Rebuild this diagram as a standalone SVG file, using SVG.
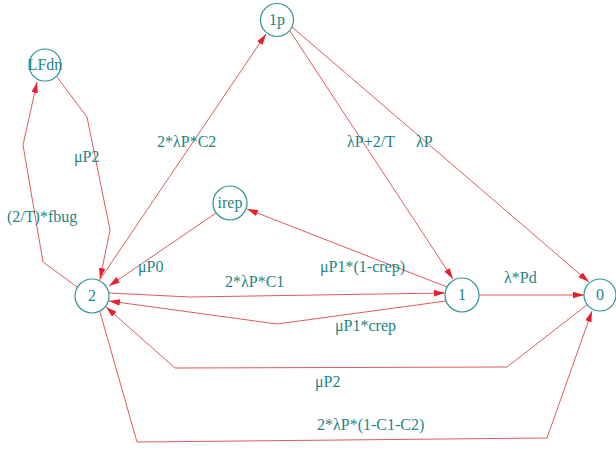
<svg xmlns="http://www.w3.org/2000/svg" width="616" height="450" viewBox="0 0 616 450">
<style>
  .node circle { fill: #ffffff; stroke: #2a9494; stroke-width: 1.2; }
  text { font-family: "Liberation Serif", "Times New Roman", serif; font-size: 16px; fill: #1f8585; }
  .node text { text-anchor: middle; }
  #connectors path { fill: none; stroke: #de5a5a; stroke-width: 1; marker-end: url(#arrow); }
</style>
<defs>
  <marker id="arrow" markerUnits="userSpaceOnUse" markerWidth="12" markerHeight="7" refX="11" refY="3.25" orient="auto">
    <path d="M0,0 L11,3.25 L0,6.5 z" fill="#e8202a"/>
  </marker>
</defs>
<rect width="616" height="450" fill="#ffffff"/>
<g id="connectors">
  <path d="M77,287 L43,262 L23,145 L37,82"/>
  <path d="M57,77 L87,117 L110,230 L100,279"/>
  <path d="M99,281 L266,34"/>
  <path d="M216,213 L109,286"/>
  <path d="M447,287 L247,209"/>
  <path d="M109,293 L190,297 L445,293"/>
  <path d="M446,301 L277,324 L109,301"/>
  <path d="M479,295 L584,295"/>
  <path d="M290,31 L453,279"/>
  <path d="M292,27 L589,282"/>
  <path d="M588,304 L507,367 L175,368 L106,307"/>
  <path d="M100,312 L137,442 L547,438 L592,311"/>
</g>
<g id="node-1p" class="node"><circle cx="277" cy="20" r="16.5"/><text x="277" y="25">1p</text></g>
<g id="node-LFdn" class="node"><circle cx="45" cy="65" r="16"/><text x="45" y="70">LFdn</text></g>
<g id="node-irep" class="node"><circle cx="230" cy="203" r="17"/><text x="230" y="208">irep</text></g>
<g id="node-2" class="node"><circle cx="92" cy="296" r="17"/><text x="92" y="301">2</text></g>
<g id="node-1" class="node"><circle cx="462" cy="295" r="17"/><text x="462" y="300">1</text></g>
<g id="node-0" class="node"><circle cx="600" cy="295" r="16"/><text x="600" y="300">0</text></g>
<g id="labels">
  <text x="157" y="147">2*λP*C2</text>
  <text x="347" y="147">λP+2/T</text>
  <text x="416" y="147">λP</text>
  <text x="74" y="162">μP2</text>
  <text x="7" y="222">(2/T)*fbug</text>
  <text x="138" y="272">μP0</text>
  <text x="225" y="287">2*λP*C1</text>
  <text x="320" y="272">μP1*(1-crep)</text>
  <text x="504" y="283">λ*Pd</text>
  <text x="335" y="331">μP1*crep</text>
  <text x="315" y="387">μP2</text>
  <text x="317" y="430">2*λP*(1-C1-C2)</text>
</g>
</svg>
